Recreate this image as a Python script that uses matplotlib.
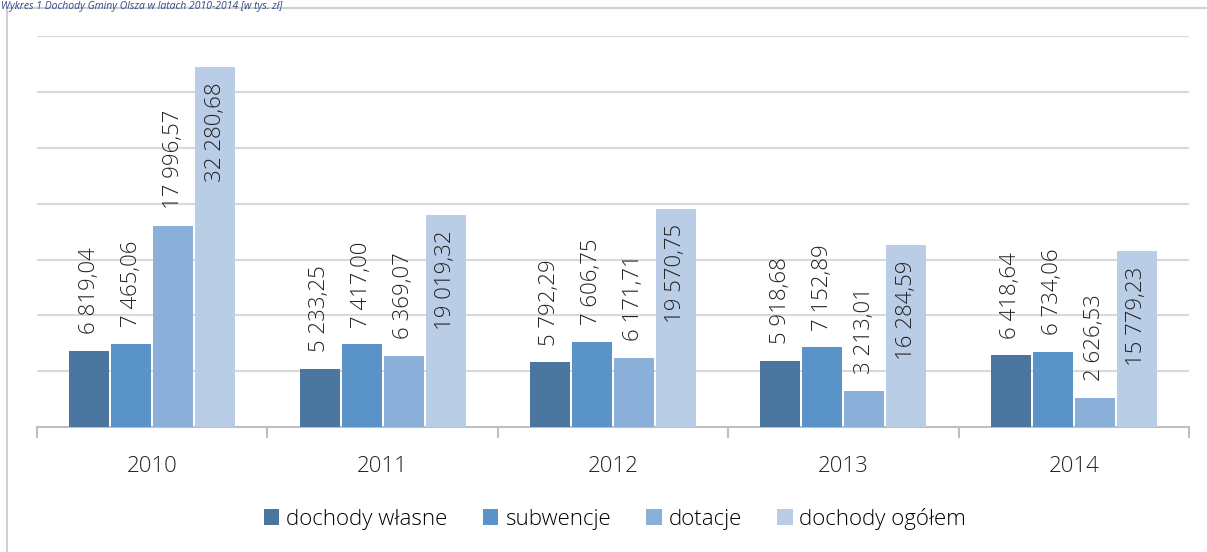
import matplotlib
matplotlib.use("Agg")
import matplotlib.pyplot as plt
from matplotlib.patches import Rectangle
import numpy as np

years = ["2010", "2011", "2012", "2013", "2014"]
series_names = ["dochody własne", "subwencje", "dotacje", "dochody ogółem"]
dochody_wlasne = [6819.04, 5233.25, 5792.29, 5918.68, 6418.64]
subwencje = [7465.06, 7417.00, 7606.75, 7152.89, 6734.06]
dotacje = [17996.57, 6369.07, 6171.71, 3213.01, 2626.53]
dochody_ogolem = [32280.68, 19019.32, 19570.75, 16284.59, 15779.23]
colors = ["#4a76a0", "#5a93c7", "#8aafd8", "#b9cde6"]
title = "Wykres 1 Dochody Gminy Olsza w latach 2010-2014 [w tys. zł]"

plt.rcParams['font.family'] = ['Open Sans', 'DejaVu Sans']

W, H = 1207, 552
fig = plt.figure(figsize=(W/100, H/100), dpi=100)
fig.patches.append(Rectangle((7/W, -0.2), 1.2, 1.2 - 8/H, transform=fig.transFigure,
                             fill=False, edgecolor="#d0d0d0", linewidth=1.5))
fig.text(1/W, 1 - 0.5/H, title, fontsize=7.5, style='italic', color="#2f4a86",
         va='top', ha='left')

ax = fig.add_axes([37/W, 1 - 427/H, (1189-37)/W, (427-36.4)/H])
data = [dochody_wlasne, subwencje, dotacje, dochody_ogolem]
x = np.arange(len(years))
step = 42/230.4
width = 40/230.4

def fmt(v):
    s = f"{v:,.2f}"
    return s.replace(",", " ").replace(".", ",")

for i, (vals, c, name) in enumerate(zip(data, colors, series_names)):
    pos = x + (i - 1.5) * step
    ax.bar(pos, vals, width=width, color=c, label=name, zorder=3)
    for p, v in zip(pos, vals):
        if i == 3:
            ax.annotate(fmt(v), (p, v), xytext=(0, -11), textcoords='offset points',
                        rotation=90, ha='center', va='top', fontsize=16,
                        fontweight='light', color="#222222", zorder=4)
        else:
            ax.annotate(fmt(v), (p, v), xytext=(0, 12), textcoords='offset points',
                        rotation=90, ha='center', va='bottom', fontsize=16,
                        fontweight='light', color="#222222", zorder=4)

ax.set_ylim(0, 35000)
ax.set_xlim(-0.5, 4.5)
ax.set_yticks(np.arange(5000, 35001, 5000))
ax.yaxis.grid(True, color="#d9d9d9", linewidth=1.5, zorder=0)
ax.tick_params(axis='y', left=False, labelleft=False)
ax.set_xticks(x)
ax.set_xticklabels(years, fontsize=16, fontweight='light', color="#222222")
ax.tick_params(axis='x', which='major', length=0, pad=21)
ax.set_xticks(np.arange(-0.5, 4.6, 1), minor=True)
ax.tick_params(axis='x', which='minor', length=8, color="#bfbfbf", width=1.5)
for s in ['top', 'right', 'left']:
    ax.spines[s].set_visible(False)
ax.spines['bottom'].set_color("#bfbfbf")
ax.spines['bottom'].set_linewidth(1.5)

fig.legend(loc='center', bbox_to_anchor=(615/W, 1 - 519/H), ncol=4, frameon=False,
           handlelength=0.7, handleheight=0.7, handletextpad=0.3,
           columnspacing=1.6, prop={'weight': 'light', 'size': 16})

fig.savefig("out.png", dpi=100)
